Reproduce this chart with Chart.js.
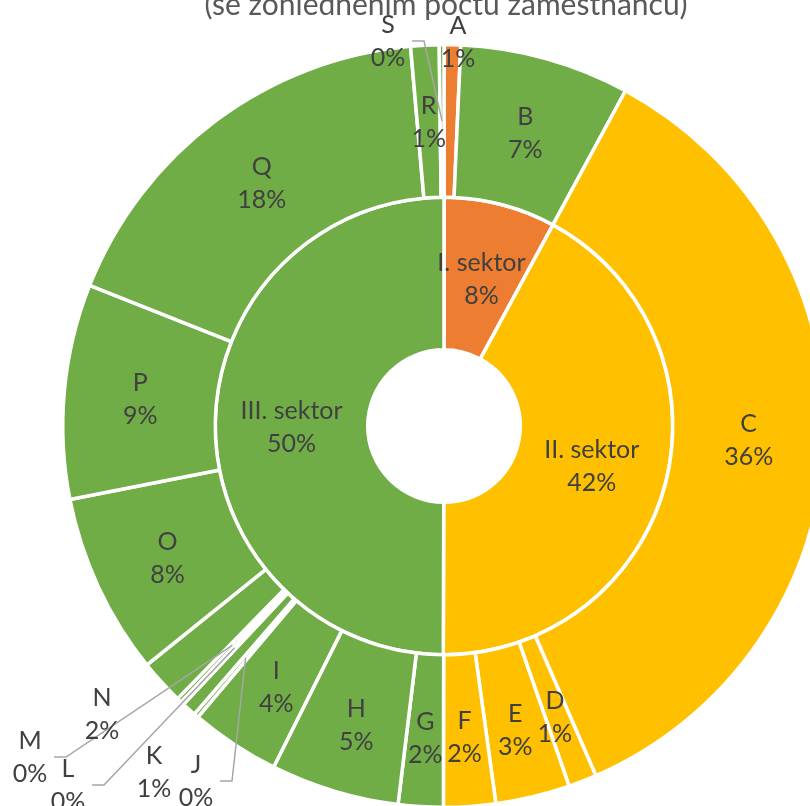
<!DOCTYPE html>
<html>
<head>
<meta charset="utf-8">
<script src="https://cdn.jsdelivr.net/npm/chart.js@4.4.0/dist/chart.umd.min.js"></script>
<style>
  html, body { margin: 0; padding: 0; background: #fff; }
  #wrap { width: 810px; height: 806px; overflow: hidden; position: relative; }
  #sunburst { position: absolute; left: 0; top: 0; }
</style>
</head>
<body>
<div id="wrap"><canvas id="sunburst" width="900" height="900"></canvas></div>
<script>
// outer ring: sections of the economy (CZ-NACE letters), share in %
var sectionCodes = ['A', 'B', 'C', 'D', 'E', 'F', 'G', 'H', 'I', 'J', 'K', 'L', 'M', 'N', 'O', 'P', 'Q', 'R', 'S'];
var sectionShares = [0.7, 7.2, 35.6, 1.2, 3.15, 2.2, 1.9, 5.45, 3.8, 0.2, 0.6, 0.15, 0.2, 1.9, 7.7, 9.1, 17.6, 1.2, 0.2];
var sectionColors = ['#ED7D31', '#70AD47', '#FFC000', '#FFC000', '#FFC000', '#FFC000',
    '#70AD47', '#70AD47', '#70AD47', '#70AD47', '#70AD47', '#70AD47', '#70AD47',
    '#70AD47', '#70AD47', '#70AD47', '#70AD47', '#70AD47', '#70AD47'];

// inner ring: sectors
var sectorNames = ['I. sektor', 'II. sektor', 'III. sektor'];
var sectorShares = [7.9, 42.15, 49.95];
var sectorColors = ['#ED7D31', '#FFC000', '#70AD47'];

var chartTitle = '(se zohledněním počtu zaměstnanců)';

// labels that sit outside the ring (offset from the centre), some with leader lines
var outsideLabels = {
    A: { dx: 14, dy: -384 },
    S: { dx: -56, dy: -385, leader: true },
    N: { dx: -342, dy: 288 },
    K: { dx: -290, dy: 346 },
    J: { dx: -248, dy: 355, leader: true },
    L: { dx: -376, dy: 359, leader: true },
    M: { dx: -414, dy: 331, leader: true }
};

function pct(values, i) {
    var total = values.reduce(function (a, b) { return a + b; }, 0);
    return Math.round(values[i] / total * 100) + '%';
}

var ringLabels = {
    id: 'ringLabels',
    afterDatasetsDraw: function (chart) {
        var ctx = chart.ctx;
        var outer = chart.getDatasetMeta(0).data;
        var inner = chart.getDatasetMeta(1).data;
        var cx = outer[0].x, cy = outer[0].y;

        function spot(arc) {
            var p = arc.getCenterPoint();
            return { x: p.x, y: p.y + 1.5 + 0.02 * Math.max(0, p.y - cy) };
        }
        function twoLines(a, b, x, y) {
            ctx.fillText(a, x, y - 16.5);
            ctx.fillText(b, x, y + 16.5);
        }

        ctx.save();
        ctx.fillStyle = '#595959';
        ctx.font = '30px Lato';
        ctx.textAlign = 'center';
        ctx.textBaseline = 'alphabetic';
        ctx.fillText(chartTitle, cx + 2, 15);

        ctx.font = '25px Lato';
        ctx.fillStyle = '#404040';
        ctx.textBaseline = 'middle';

        inner.forEach(function (arc, i) {
            var p = spot(arc);
            twoLines(sectorNames[i], pct(sectorShares, i), p.x, p.y);
        });

        outer.forEach(function (arc, i) {
            var code = sectionCodes[i];
            var p = arc.getCenterPoint();
            var pos = spot(arc);
            var o = outsideLabels[code];
            if (o) {
                pos = { x: cx + o.dx, y: cy + o.dy };
                if (o.leader) {
                    ctx.strokeStyle = '#A6A6A6';
                    ctx.lineWidth = 1.5;
                    ctx.beginPath();
                    ctx.moveTo(pos.x + 24, pos.y);
                    ctx.lineTo(pos.x + 36, pos.y);
                    ctx.lineTo(p.x, p.y);
                    ctx.stroke();
                }
            }
            twoLines(code, pct(sectionShares, i), pos.x, pos.y);
        });
        ctx.restore();
    }
};

new Chart(document.getElementById('sunburst').getContext('2d'), {
    type: 'doughnut',
    data: {
        labels: sectionCodes,
        datasets: [{
            label: 'Sekce',
            data: sectionShares,
            backgroundColor: sectionColors,
            borderColor: '#ffffff',
            borderWidth: 3.5
        }, {
            label: 'Sektory',
            data: sectorShares,
            backgroundColor: sectorColors,
            borderColor: '#ffffff',
            borderWidth: 3.5
        }]
    },
    options: {
        responsive: false,
        animation: false,
        cutout: '20%',
        layout: {
            padding: { left: 61, top: 43, right: 73, bottom: 91 }
        },
        plugins: {
            legend: { display: false },
            tooltip: { enabled: false },
            title: { display: false }
        }
    },
    plugins: [ringLabels]
});
</script>
</body>
</html>
